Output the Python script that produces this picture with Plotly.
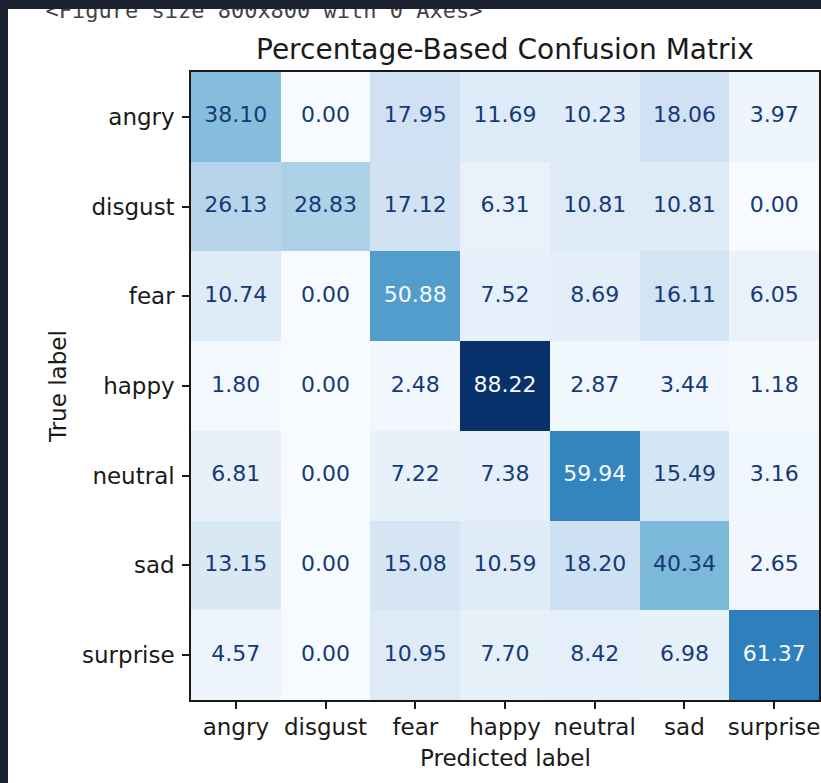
import plotly.graph_objects as go

# Emotion classes (rows = true label, columns = predicted label)
classes = ["angry", "disgust", "fear", "happy", "neutral", "sad", "surprise"]

# Row-normalised percentages
row_angry = [38.10, 0.00, 17.95, 11.69, 10.23, 18.06, 3.97]
row_disgust = [26.13, 28.83, 17.12, 6.31, 10.81, 10.81, 0.00]
row_fear = [10.74, 0.00, 50.88, 7.52, 8.69, 16.11, 6.05]
row_happy = [1.80, 0.00, 2.48, 88.22, 2.87, 3.44, 1.18]
row_neutral = [6.81, 0.00, 7.22, 7.38, 59.94, 15.49, 3.16]
row_sad = [13.15, 0.00, 15.08, 10.59, 18.20, 40.34, 2.65]
row_surprise = [4.57, 0.00, 10.95, 7.70, 8.42, 6.98, 61.37]

matrix = [row_angry, row_disgust, row_fear, row_happy, row_neutral, row_sad, row_surprise]

notebook_line = "<Figure size 800x800 with 0 Axes>"
title_text = "Percentage-Based Confusion Matrix"

# ---- page geometry (pixels) ----
W, H = 821, 783
AX_L, AX_R, AX_T, AX_B = 191, 819, 72, 700
FRAME = "#1c2230"

def px_x(x):
    return x / W

def px_y(y):
    return 1 - y / H

# ColorBrewer "Blues"
blues = ["#f7fbff", "#deebf7", "#c6dbef", "#9ecae1", "#6baed6",
         "#4292c6", "#2171b5", "#08519c", "#08306b"]
colorscale = [[i / (len(blues) - 1), c] for i, c in enumerate(blues)]

n = len(classes)
idx = list(range(n))
flat = [v for row in matrix for v in row]
zmin, zmax = min(flat), max(flat)
thresh = (zmin + zmax) / 2

cell_x, cell_y, cell_txt, cell_col = [], [], [], []
for r, row in enumerate(matrix):
    for c, v in enumerate(row):
        cell_x.append(c)
        cell_y.append(r)
        cell_txt.append(f"{v:.2f}")
        cell_col.append(blues[0] if v >= thresh else "#163a78")

fig = go.Figure()
fig.add_trace(go.Heatmap(
    x=idx, y=idx, z=matrix, zmin=zmin, zmax=zmax,
    colorscale=colorscale, showscale=False, hoverinfo="skip",
))
fig.add_trace(go.Scatter(
    x=cell_x, y=cell_y, text=cell_txt, mode="text",
    textfont=dict(family="DejaVu Sans", size=22, color=cell_col),
    hoverinfo="skip", showlegend=False,
))

# notebook output line, partially hidden under the window frame
fig.add_trace(go.Scatter(
    x=[264], y=[12.5], text=[notebook_line], mode="text",
    textposition="middle center",
    textfont=dict(family="DejaVu Sans Mono", size=22, color="#444444"),
    xaxis="x2", yaxis="y2", hoverinfo="skip", showlegend=False,
))

axis_common = dict(
    showline=True, mirror=True, linecolor="#1a1a1a", linewidth=1.5,
    ticks="outside", ticklen=7, tickwidth=1.5, tickcolor="#1a1a1a",
    showgrid=False, zeroline=False,
    tickfont=dict(family="DejaVu Sans", size=23, color="#1a1a1a"),
    tickvals=idx, ticktext=classes, fixedrange=True,
)

fig.update_layout(
    width=W, height=H,
    margin=dict(l=0, r=0, t=0, b=0),
    paper_bgcolor="white", plot_bgcolor="rgba(0,0,0,0)",
    showlegend=False,
    xaxis=dict(domain=[px_x(AX_L), px_x(AX_R)], range=[-0.5, n - 0.5],
               anchor="y", ticklabelstandoff=-1, **axis_common),
    yaxis=dict(domain=[px_y(AX_B), px_y(AX_T)], range=[n - 0.5, -0.5],
               anchor="x", ticklabelstandoff=3, **axis_common),
    xaxis2=dict(domain=[0, 1], range=[0, W], visible=False, anchor="y2", fixedrange=True),
    yaxis2=dict(domain=[0, 1], range=[H, 0], visible=False, anchor="x2", fixedrange=True),
    shapes=[
        dict(type="rect", xref="x2", yref="y2", x0=0, x1=W, y0=0, y1=9,
             fillcolor=FRAME, line=dict(width=0), layer="above"),
        dict(type="rect", xref="x2", yref="y2", x0=0, x1=8, y0=0, y1=H,
             fillcolor=FRAME, line=dict(width=0), layer="above"),
    ],
    annotations=[
        dict(text=title_text, xref="paper", yref="paper",
             x=px_x((AX_L + AX_R) / 2), y=px_y(49), xanchor="center", yanchor="middle",
             showarrow=False, font=dict(family="DejaVu Sans", size=28, color="#1a1a1a")),
        dict(text="Predicted label", xref="paper", yref="paper",
             x=px_x((AX_L + AX_R) / 2), y=px_y(758), xanchor="center", yanchor="middle",
             showarrow=False, font=dict(family="DejaVu Sans", size=23, color="#1a1a1a")),
        dict(text="True label", xref="paper", yref="paper",
             x=px_x(58), y=px_y((AX_T + AX_B) / 2), xanchor="center", yanchor="middle",
             textangle=-90, showarrow=False,
             font=dict(family="DejaVu Sans", size=23, color="#1a1a1a")),
    ],
)

fig.write_html("out.html")
